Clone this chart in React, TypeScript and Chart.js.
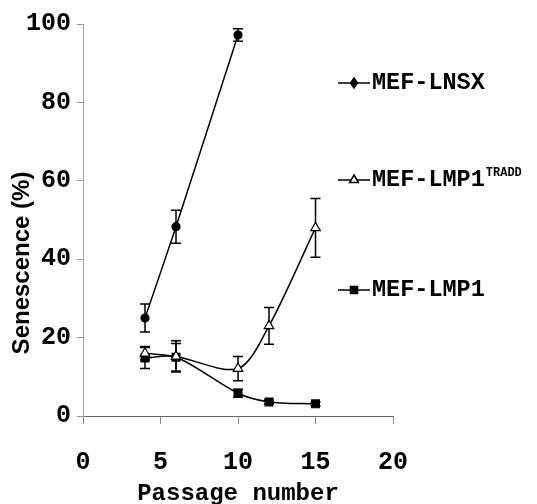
import React, { useEffect, useRef } from "react";
import { Chart, registerables } from "chart.js";

Chart.register(...registerables);

// ---- data ----
const seriesNames = ["MEF-LNSX", "MEF-LMP1", "MEF-LMP1"];
const seriesSuperscripts = ["", "TRADD", ""];

const lnsxPassage = [4, 6, 10];
const lnsxValues = [25, 48.3, 97.2];
const lnsxErrors = [3.6, 4.2, 1.6];

const traddPassage = [4, 6, 10, 12, 15];
const traddValues = [16, 15.2, 12.1, 23, 48];
const traddErrors = [1.7, 4, 3.1, 4.7, 7.5];

const lmp1Passage = [4, 6, 10, 12, 15];
const lmp1Values = [14.8, 15, 5.8, 3.6, 3.1];
const lmp1Errors = [2.7, 3.5, 1, 0.5, 0.5];

const xTickValues = [0, 5, 10, 15, 20];
const yTickValues = [0, 20, 40, 60, 80, 100];

const xTitle = "Passage number";
const yTitle = "Senescence (%)";

// ---- styles ----
const MONO = '"Liberation Mono", "Courier New", monospace';
const SANS = '"Liberation Sans", Arial, sans-serif';
const pointStyles = ["circle", "triangle", "rect"];
const pointRadii = [4, 5.5, 5.5];
const pointFills = ["#000", "#fff", "#000"];
const legendRowY = [83, 180, 290];

const errorBarPlugin = {
  id: "errorBars",
  beforeDatasetsDraw(chart: any, _args: any, opts: any) {
    const { ctx } = chart;
    const xs = chart.scales.x;
    const ys = chart.scales.y;
    const errs: number[][] = opts.errors;
    ctx.save();
    ctx.strokeStyle = "#000";
    ctx.lineWidth = 1.5;
    chart.data.datasets.forEach((ds: any, i: number) => {
      ds.data.forEach((p: any, j: number) => {
        const e = errs[i][j];
        const px = xs.getPixelForValue(p.x);
        const top = ys.getPixelForValue(p.y + e);
        const bot = ys.getPixelForValue(p.y - e);
        ctx.beginPath();
        ctx.moveTo(px, top);
        ctx.lineTo(px, bot);
        ctx.moveTo(px - 5, top);
        ctx.lineTo(px + 5, top);
        ctx.moveTo(px - 5, bot);
        ctx.lineTo(px + 5, bot);
        ctx.stroke();
      });
    });
    ctx.restore();
  },
};

function drawMarker(ctx: CanvasRenderingContext2D, style: string, x: number, y: number, r: number, fill: string) {
  ctx.beginPath();
  if (style === "diamond") {
    ctx.moveTo(x, y - r);
    ctx.lineTo(x + r * 0.7, y);
    ctx.lineTo(x, y + r);
    ctx.lineTo(x - r * 0.7, y);
    ctx.closePath();
  } else if (style === "triangle") {
    ctx.moveTo(x, y - r);
    ctx.lineTo(x + r * 0.87, y + r * 0.5);
    ctx.lineTo(x - r * 0.87, y + r * 0.5);
    ctx.closePath();
  } else {
    const s = r * 0.7;
    ctx.rect(x - s, y - s, 2 * s, 2 * s);
  }
  ctx.fillStyle = fill;
  ctx.fill();
  ctx.stroke();
}

const customLegendPlugin = {
  id: "customLegend",
  afterDraw(chart: any) {
    const { ctx, chartArea } = chart;
    const x0 = chartArea.right - 55;
    const styles = ["diamond", "triangle", "rect"];
    ctx.save();
    chart.data.datasets.forEach((ds: any, i: number) => {
      const y = legendRowY[i];
      ctx.strokeStyle = "#000";
      ctx.lineWidth = 1.5;
      ctx.beginPath();
      ctx.moveTo(x0, y);
      ctx.lineTo(x0 + 32, y);
      ctx.stroke();
      drawMarker(ctx, styles[i], x0 + 16, y, 5, pointFills[i]);
      ctx.fillStyle = "#000";
      ctx.font = `bold 23.5px ${MONO}`;
      ctx.textBaseline = "middle";
      ctx.textAlign = "left";
      ctx.fillText(seriesNames[i], x0 + 34, y);
      const w = ctx.measureText(seriesNames[i]).width;
      if (seriesSuperscripts[i]) {
        ctx.font = `bold 12px ${MONO}`;
        ctx.fillText(seriesSuperscripts[i], x0 + 34 + w + 1, y - 7);
      }
    });
    // y axis title
    ctx.translate(22, (chartArea.top + chartArea.bottom) / 2 + 43);
    ctx.rotate(-Math.PI / 2);
    ctx.font = `bold 24px ${SANS}`;
    ctx.textAlign = "center";
    ctx.textBaseline = "middle";
    ctx.fillStyle = "#000";
    ctx.fillText(yTitle, 0, 0);
    ctx.restore();
  },
};

const xs = [lnsxPassage, traddPassage, lmp1Passage];
const vs = [lnsxValues, traddValues, lmp1Values];
const es = [lnsxErrors, traddErrors, lmp1Errors];

export default function App() {
  const ref = useRef<HTMLCanvasElement>(null);
  useEffect(() => {
    if (!ref.current) return;
    const datasets = xs.map((px, i) => ({
      label: seriesNames[i] + seriesSuperscripts[i],
      data: px.map((x, j) => ({ x, y: vs[i][j] })),
      borderColor: "#000",
      borderWidth: 1.5,
      tension: 0.3,
      fill: false,
      pointStyle: pointStyles[i] as any,
      pointRadius: pointRadii[i],
      pointBackgroundColor: pointFills[i],
      pointBorderColor: "#000",
      pointBorderWidth: 1.2,
    }));
    const tickFont = { family: MONO, size: 25, weight: "bold" as const };
    const chart = new Chart(ref.current, {
      type: "line",
      data: { datasets },
      plugins: [errorBarPlugin, customLegendPlugin],
      options: {
        animation: false,
        responsive: false,
        layout: { padding: { top: 24, right: 144, left: 0, bottom: 0 } },
        plugins: {
          legend: { display: false },
          tooltip: { enabled: false },
          errorBars: { errors: es },
        } as any,
        scales: {
          x: {
            type: "linear",
            min: 0,
            max: 20,
            afterBuildTicks: (s: any) => {
              s.ticks = xTickValues.map((v) => ({ value: v }));
            },
            ticks: { font: tickFont, color: "#000", padding: 24 },
            grid: { drawOnChartArea: false, drawTicks: true, tickLength: 8, color: "#888" },
            border: { color: "#666", width: 1 },
            title: {
              display: true,
              text: xTitle,
              color: "#000",
              font: { family: MONO, size: 24, weight: "bold" },
              padding: { top: 0, bottom: -4 },
            },
            afterFit: (s: any) => {
              s.height = 88;
            },
          },
          y: {
            type: "linear",
            min: 0,
            max: 100,
            afterBuildTicks: (s: any) => {
              s.ticks = yTickValues.map((v) => ({ value: v }));
            },
            ticks: { font: tickFont, color: "#000", padding: 6 },
            grid: { drawOnChartArea: false, drawTicks: true, tickLength: 6, color: "#999" },
            border: { color: "#aaa", width: 1 },
            afterFit: (s: any) => {
              s.width = 83;
            },
          },
        } as any,
      },
    });
    return () => chart.destroy();
  }, []);
  return (
    <div style={{ position: "fixed", left: 0, top: 0, width: 537, height: 504, background: "#fff", overflow: "hidden" }}>
      <canvas ref={ref} width={537} height={504} style={{ display: "block" }} />
    </div>
  );
}
